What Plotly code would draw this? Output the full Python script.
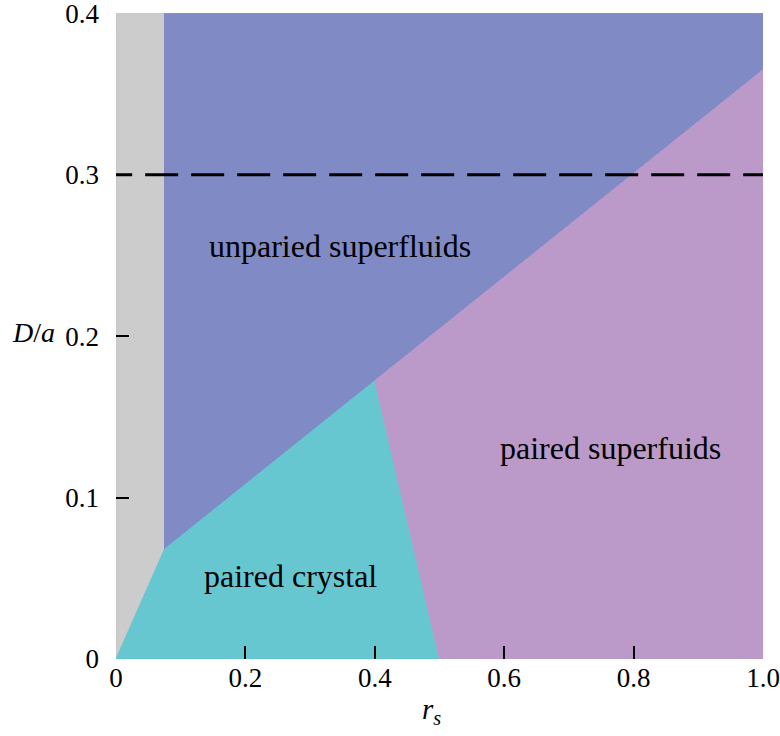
import plotly.graph_objects as go

# Phase-region boundary vertices (r_s, D/a)
gray_x = [0.0, 0.0, 0.075, 0.075, 0.0]
gray_y = [0.0, 0.4, 0.4, 0.068, 0.0]

blue_x = [0.075, 0.075, 1.0, 1.0, 0.4, 0.075]
blue_y = [0.068, 0.4, 0.4, 0.365, 0.1724, 0.068]

cyan_x = [0.0, 0.075, 0.4, 0.5, 0.0]
cyan_y = [0.0, 0.068, 0.1724, 0.0, 0.0]

purple_x = [0.4, 1.0, 1.0, 0.5, 0.4]
purple_y = [0.1724, 0.365, 0.0, 0.0, 0.1724]

dash_x = [-0.026, 1.0]
dash_y = [0.3, 0.3]

labels = ["unparied superfluids", "paired superfuids", "paired crystal"]
label_x = [0.346, 0.764, 0.269]
label_y = [0.256, 0.131, 0.0516]

x_ticks = [0, 0.2, 0.4, 0.6, 0.8, 1.0]
x_ticktext = ["0", "0.2", "0.4", "0.6", "0.8", "1.0"]
y_ticks = [0, 0.1, 0.2, 0.3, 0.4]
y_ticktext = ["0", "0.1", "0.2", "0.3", "0.4"]

FONT = "Liberation Serif, Times New Roman, serif"

fig = go.Figure()

regions = [
    (gray_x, gray_y, "rgb(204,204,204)", "rgb(196,196,204)"),
    (blue_x, blue_y, "rgb(128,138,196)", "rgb(128,138,196)"),
    (cyan_x, cyan_y, "rgb(102,199,208)", "rgb(102,199,208)"),
    (purple_x, purple_y, "rgb(187,154,202)", "rgb(187,154,202)"),
]
for xs, ys, fc, lc in regions:
    fig.add_trace(go.Scatter(x=xs, y=ys, fill="toself", fillcolor=fc,
                             mode="lines", line=dict(color=lc, width=1),
                             hoverinfo="skip", showlegend=False))

fig.add_trace(go.Scatter(x=dash_x, y=dash_y, mode="lines",
                         line=dict(color="black", width=3, dash="33px,13px"),
                         hoverinfo="skip", showlegend=False))

for t, x, y in zip(labels, label_x, label_y):
    fig.add_annotation(x=x, y=y, text=t, showarrow=False,
                       xanchor="center", yanchor="middle",
                       font=dict(family=FONT, size=32, color="black"))

fig.add_annotation(xref="paper", yref="paper", x=0.488, y=-0.080,
                   xanchor="center", yanchor="middle",
                   text="<i>r<sub>s</sub></i>", showarrow=False,
                   font=dict(family=FONT, size=29, color="black"))
fig.add_annotation(xref="paper", yref="paper", x=-0.128, y=0.505,
                   xanchor="center", yanchor="middle",
                   text="<i>D</i>/<i>a</i>", showarrow=False,
                   font=dict(family=FONT, size=28, color="black"))

fig.update_xaxes(range=[0, 1.0], tickvals=x_ticks, ticktext=x_ticktext,
                 ticks="inside", ticklen=13, tickwidth=1.5, tickcolor="black",
                 showgrid=False, zeroline=False, showline=False,
                 automargin=False, ticklabelstandoff=0,
                 ticklabeloverflow="allow",
                 tickfont=dict(family=FONT, size=27, color="black"))
fig.update_yaxes(range=[0, 0.4002], tickvals=y_ticks, ticktext=y_ticktext,
                 ticks="inside", ticklen=13, tickwidth=1.5, tickcolor="black",
                 showgrid=False, zeroline=False, showline=False,
                 automargin=False, ticklabelstandoff=16,
                 ticklabeloverflow="allow",
                 tickfont=dict(family=FONT, size=27, color="black"))

fig.update_layout(width=780, height=736,
                  margin=dict(l=116, r=17, t=13, b=77),
                  plot_bgcolor="white", paper_bgcolor="white",
                  font=dict(family=FONT))

fig.write_html("out.html")
